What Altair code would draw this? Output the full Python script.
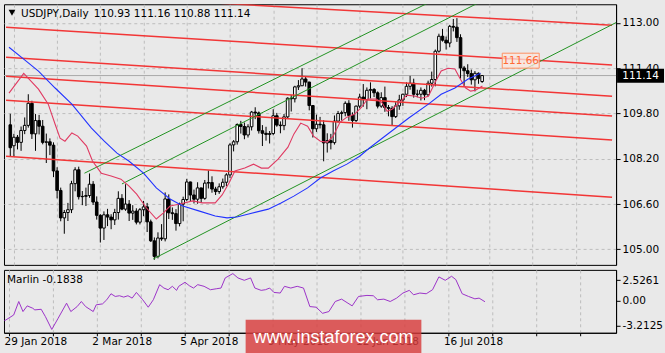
import altair as alt
import pandas as pd

FONT = "DejaVu Sans"
BG = "#e9e9e9"

# ---------------- candles (bar index: 0 = 29 Jan 2018) ----------------
bar_index = list(range(-1, 131))
opens = [109.40, 108.66, 108.96, 108.78, 109.20, 109.38, 110.16, 109.08, 109.55, 109.35,
         108.78, 108.80, 108.68, 107.77, 107.08, 106.11, 106.30, 106.40, 107.32, 107.81,
         106.86, 106.87, 106.90, 107.30, 106.67, 106.20, 105.75, 106.22, 106.14, 106.04,
         106.30, 106.80, 106.42, 106.60, 106.28, 106.35, 105.96, 106.40, 106.50, 105.97,
         105.30, 104.75, 105.40, 105.37, 106.78, 106.29, 106.26, 105.91, 106.60, 106.76,
         107.38, 106.92, 106.77, 107.17, 106.80, 107.34, 107.36, 107.13, 107.04, 107.21,
         107.37, 107.63, 108.69, 108.80, 109.41, 109.34, 109.04, 109.33, 109.85, 109.82,
         109.19, 109.10, 109.06, 109.09, 109.72, 109.39, 109.37, 109.68, 110.34, 110.32,
         110.74, 110.78, 111.02, 110.91, 110.08, 109.26, 109.42, 109.40, 108.76, 108.84,
         108.77, 109.53, 109.80, 109.83, 110.16, 109.73, 109.55, 110.06, 110.38, 110.29,
         110.62, 110.65, 110.53, 110.06, 110.36, 110.01, 109.98, 109.69, 110.07, 110.28,
         110.48, 110.76, 110.87, 110.48, 110.48, 110.62, 110.46, 110.87, 111.00, 112.00,
         112.53, 112.39, 112.29, 112.88, 112.85, 112.48, 111.41, 111.31, 111.21, 110.99,
         111.22, 110.93]
highs = [109.79, 109.08, 109.04, 109.34, 109.66, 110.48, 110.25, 109.78, 109.75, 109.57,
         109.09, 108.92, 108.78, 107.90, 107.18, 106.39, 106.64, 107.42, 107.90, 107.92,
         107.06, 107.18, 107.68, 107.41, 106.87, 106.24, 106.34, 106.43, 106.24, 106.43,
         107.05, 106.95, 107.30, 106.74, 106.56, 106.45, 106.46, 106.71, 106.64, 106.05,
         105.42, 105.60, 105.89, 107.01, 106.94, 106.48, 106.42, 106.65, 106.86, 107.49,
         107.39, 107.11, 107.37, 107.17, 107.45, 107.79, 107.58, 107.21, 107.33, 107.50,
         107.69, 108.75, 108.86, 109.45, 109.54, 109.48, 109.42, 109.89, 110.02, 109.87,
         109.39, 109.33, 109.18, 109.95, 109.82, 109.52, 109.78, 110.37, 110.45, 110.78,
         110.98, 111.40, 111.10, 110.92, 110.10, 109.76, 109.68, 109.56, 109.10, 109.08,
         109.73, 109.89, 109.90, 110.23, 110.27, 109.84, 110.08, 110.50, 110.84, 110.72,
         110.90, 110.70, 110.58, 110.55, 110.75, 110.10, 110.06, 110.20, 110.46, 110.50,
         110.90, 111.13, 111.03, 110.64, 110.72, 110.67, 110.96, 111.28, 112.06, 112.62,
         112.79, 112.52, 112.93, 113.14, 113.17, 112.60, 111.48, 111.54, 111.35, 111.30,
         111.25, 111.16]
lows = [108.28, 108.28, 108.53, 108.48, 109.07, 109.30, 108.90, 108.48, 109.06, 108.71,
        108.05, 108.33, 107.55, 106.80, 105.99, 105.55, 106.00, 106.28, 107.05, 106.76,
        106.56, 106.53, 106.82, 106.57, 106.05, 105.24, 105.33, 105.82, 105.71, 105.86,
        106.05, 106.38, 106.36, 106.00, 106.04, 105.88, 105.88, 106.17, 105.61, 105.26,
        104.63, 104.68, 105.30, 105.28, 106.07, 106.04, 105.66, 105.81, 105.99, 106.70,
        106.68, 106.62, 106.61, 106.64, 106.75, 107.15, 107.00, 106.92, 106.96, 107.14,
        107.23, 107.52, 108.46, 108.70, 109.09, 108.89, 108.95, 109.20, 109.60, 109.09,
        108.65, 108.84, 108.74, 109.03, 109.33, 109.10, 109.21, 109.64, 109.87, 110.19,
        110.63, 110.77, 110.75, 109.91, 108.95, 109.15, 109.27, 108.11, 108.42, 108.53,
        108.70, 109.48, 109.55, 109.70, 109.54, 109.30, 109.50, 109.99, 110.04, 109.95,
        110.33, 110.38, 109.98, 110.00, 109.86, 109.70, 109.37, 109.64, 109.93, 110.07,
        110.38, 110.64, 110.36, 110.37, 110.26, 110.27, 110.41, 110.75, 110.76, 111.95,
        112.34, 112.06, 112.14, 112.70, 112.33, 111.03, 110.75, 111.09, 110.82, 110.58,
        110.85, 110.88]
closes = [108.59, 108.96, 108.78, 109.20, 109.38, 110.16, 109.08, 109.55, 109.35, 108.78,
          108.80, 108.68, 107.77, 107.08, 106.11, 106.30, 106.40, 107.32, 107.81, 106.86,
          106.87, 106.90, 107.30, 106.67, 106.20, 105.75, 106.22, 106.14, 106.04, 106.30,
          106.80, 106.42, 106.60, 106.28, 106.35, 105.96, 106.40, 106.50, 105.97, 105.30,
          104.75, 105.40, 105.37, 106.78, 106.29, 106.26, 105.91, 106.60, 106.76, 107.38,
          106.92, 106.77, 107.17, 106.80, 107.34, 107.36, 107.13, 107.04, 107.21, 107.37,
          107.63, 108.69, 108.80, 109.41, 109.34, 109.04, 109.33, 109.85, 109.82, 109.19,
          109.10, 109.06, 109.09, 109.72, 109.39, 109.37, 109.68, 110.34, 110.32, 110.74,
          110.78, 111.02, 110.91, 110.08, 109.26, 109.42, 109.40, 108.76, 108.84, 108.77,
          109.53, 109.80, 109.83, 110.16, 109.73, 109.55, 110.06, 110.38, 110.29, 110.62,
          110.65, 110.53, 110.06, 110.36, 110.01, 109.98, 109.69, 110.07, 110.28, 110.48,
          110.76, 110.87, 110.48, 110.48, 110.62, 110.46, 110.87, 111.00, 112.00, 112.53,
          112.39, 112.29, 112.88, 112.85, 112.48, 111.41, 111.31, 111.21, 110.99, 111.22,
          111.04, 111.14]

# ---------------- axes ----------------
date_tick_bars = [0, 24, 48, 72, 96, 120]
date_tick_labels = ["29 Jan 2018", "2 Mar 2018", "5 Apr 2018", "9 May 2018", "12 Jun 2018", "16 Jul 2018"]
grid_bars = [0, 12, 24, 36, 48, 60, 72, 84, 96, 108, 120, 132, 144, 156]
price_ticks = [105.0, 106.6, 108.2, 109.8, 111.4, 113.0]
marlin_ticks = [2.5261, 0.0, -3.2125]
marlin_tick_labels = ["2.5261", "0.00", "-3.2125"]

# ---------------- indicators ----------------
red_ma_bars = [-1.36, 2.73, 6.82, 9.54, 11.45, 12.82, 14.18, 16.09, 17.73, 20.18, 21.82, 24.27,
               27.0, 29.72, 31.9, 34.09, 36.82, 39.54, 41.45, 43.36, 46.09, 49.63, 52.36, 55.9,
               57.81, 59.72, 61.36, 64.09, 66.54, 68.72, 70.63, 73.36, 76.09, 77.72, 79.63, 81.54,
               83.18, 85.09, 87.0, 88.63, 90.54, 92.45, 94.63, 96.54, 98.17, 100.63, 102.27, 103.63,
               104.99, 106.9, 109.08, 111.54, 113.17, 115.08, 117.0, 118.63, 120.54, 122.45, 124.09,
               125.45, 126.81, 128.17, 130.08]
red_ma_vals = [110.52, 111.22, 110.66, 110.13, 109.42, 108.93, 108.82, 109.11, 109.0, 108.65, 108.12,
               107.69, 107.59, 107.48, 107.24, 106.95, 106.46, 106.07, 106.28, 106.53, 106.6, 106.71,
               106.64, 106.64, 106.92, 107.34, 107.77, 107.87, 108.01, 107.87, 107.87, 108.19, 108.61,
               109.07, 109.46, 109.35, 109.0, 108.82, 108.79, 109.0, 109.49, 109.67, 109.78, 110.02,
               110.31, 110.31, 110.17, 109.88, 109.95, 110.17, 110.45, 110.41, 110.34, 110.41, 110.91,
               111.3, 111.4, 111.37, 110.98, 110.7, 110.59, 110.62, 110.77]
blue_ma_bars = [-1.36, 2.73, 6.82, 11.45, 16.09, 21.54, 25.09, 28.63, 31.9, 36.0, 39.54, 43.36,
                46.9, 51.54, 55.9, 59.18, 61.9, 65.18, 70.63, 74.18, 77.72, 81.54, 85.09, 88.63,
                92.45, 96.0, 98.72, 104.17, 109.63, 115.08, 118.63, 122.45, 126.0, 129.54]
blue_ma_vals = [112.14, 111.72, 111.3, 110.7, 110.13, 109.28, 108.82, 108.4, 108.12, 107.69, 107.17,
                106.78, 106.53, 106.35, 106.18, 106.11, 106.14, 106.25, 106.42, 106.64, 106.88, 107.17,
                107.52, 107.77, 108.01, 108.29, 108.58, 109.11, 109.64, 110.13, 110.48, 110.7, 111.01,
                111.22]
marlin_bars = [-1.26, -0.87, 1.29, 2.67, 3.83, 4.98, 6.49, 7.06, 8.8, 9.95, 11.69, 13.42, 15.73,
               16.89, 18.62, 19.77, 20.93, 23.01, 23.82, 25.55, 26.71, 27.86, 29.02, 30.17, 31.33,
               32.49, 33.64, 34.8, 36.53, 38.03, 39.42, 41.15, 42.31, 43.46, 44.62, 45.77, 46.35,
               48.08, 49.24, 50.4, 51.55, 53.28, 55.02, 56.75, 57.91, 59.06, 61.14, 62.53, 64.26,
               65.99, 67.15, 68.88, 70.04, 71.19, 72.35, 74.08, 75.24, 76.97, 78.71, 80.44, 82.17,
               83.9, 85.64, 87.37, 89.1, 90.84, 92.57, 93.73, 95.46, 97.77, 99.5, 100.66, 102.39,
               104.12, 105.86, 107.59, 109.33, 110.48, 112.21, 113.95, 115.68, 117.41, 119.15,
               120.88, 122.04, 123.77, 125.5, 127.24, 128.39, 130.0]
marlin_vals = [-2.57, -2.49, -1.85, -0.15, -1.42, -0.70, -1.0, -1.21, -1.13, -2.06, -3.68, -2.27,
               -0.36, -1.42, -0.79, -0.15, -0.79, -1.42, -0.57, -0.45, 0.07, 0.83, 0.49, 0.58, 0.41,
               0.58, 0.28, 1.0, 0.07, -0.87, 0.07, 1.98, 1.55, 1.34, 1.77, 1.26, 1.77, 2.28, 1.85,
               1.55, 1.98, 1.77, 1.34, 1.47, 1.55, 2.83, 3.38, 2.83, 2.53, 2.83, 1.55, 1.26, 1.34,
               1.55, 1.0, 0.92, 1.77, 1.55, 1.77, 1.55, -0.79, -0.87, -1.64, -1.42, -0.15, 0.15,
               -0.36, -0.70, 0.49, 0.62, 0.58, 0.07, 0.15, -0.15, 0.28, 0.92, 1.26, 0.70, 0.92,
               0.83, 1.34, 2.96, 2.53, 3.04, 2.62, 0.83, 0.49, 0.19, 0.28, -0.18]

# ---------------- drawn lines (bar, price at both ends) ----------------
red_line_names = ["R0", "R1", "R2", "R3", "R4", "R5"]
red_line_bar0 = [-2.18, -2.18, -2.18, -2.18, -2.18, -2.18]
red_line_p0 = [114.12, 112.85, 111.79, 111.12, 110.27, 108.29]
red_line_bar1 = [166.07, 166.07, 166.07, 166.07, 166.07, 166.07]
red_line_p1 = [112.92, 111.51, 110.41, 109.71, 108.86, 106.84]

green_line_names = ["G1", "G2", "G3"]
green_line_bar0 = [19.6, 30.0, 38.7]
green_line_p0 = [107.69, 107.31, 104.66]
green_line_bar1 = [123.3, 134.2, 169.6]
green_line_p1 = [114.23, 114.05, 113.17]

# ---------------- texts ----------------
symbol = "USDJPY,Daily"
last_ohlc = [110.93, 111.16, 110.88, 111.14]
bid_price = 111.14
level_label = 111.66
marlin_name = "Marlin"
marlin_last = -0.1838
watermark = "www.instaforex.com"

# ---------------- frames ----------------
candles = pd.DataFrame({"bar": bar_index, "open": opens, "high": highs, "low": lows, "close": closes})


def seg_frame(names, b0, p0, b1, p1):
    rows = []
    for n, a, b, c, d in zip(names, b0, p0, b1, p1):
        rows.append({"name": n, "bar": a, "price": b, "ord": 0})
        rows.append({"name": n, "bar": c, "price": d, "ord": 1})
    return pd.DataFrame(rows)


red_lines = seg_frame(red_line_names, red_line_bar0, red_line_p0, red_line_bar1, red_line_p1)
green_lines = seg_frame(green_line_names, green_line_bar0, green_line_p0, green_line_bar1, green_line_p1)
red_ma = pd.DataFrame({"bar": red_ma_bars, "price": red_ma_vals})
blue_ma = pd.DataFrame({"bar": blue_ma_bars, "price": blue_ma_vals})
marlin = pd.DataFrame({"bar": marlin_bars, "val": marlin_vals})
info = pd.DataFrame({
    "sym": [symbol],
    "ohlc": [" ".join(f"{v:.2f}" for v in last_ohlc)],
    "bid": [bid_price],
    "bidtxt": [f"{bid_price:.2f}"],
    "lvl": [level_label],
    "lvltxt": [f"{level_label:.2f}"],
    "mtxt": [f"{marlin_name} {marlin_last:.4f}"],
    "wm": [watermark],
})

# ---------------- scales & axes ----------------
xs = alt.Scale(domain=[-1.36, 165.8], nice=False, zero=False)
ys = alt.Scale(domain=[104.45, 113.66], nice=False, zero=False)
ms = alt.Scale(domain=[-4.1, 3.85], nice=False, zero=False)

ax_main_x = alt.Axis(values=grid_bars, grid=True, labels=False, ticks=False, domain=False, title=None)
ax_main_y = alt.Axis(orient="right", values=price_ticks, format=".2f", grid=True, title=None)

x_expr = "''"
for b, l in reversed(list(zip(date_tick_bars, date_tick_labels))):
    x_expr = f"datum.value == {b} ? '{l}' : {x_expr}"
m_expr = "''"
for b, l in reversed(list(zip(marlin_ticks, marlin_tick_labels))):
    m_expr = f"datum.value == {b} ? '{l}' : {m_expr}"

ax_m_x = alt.Axis(values=grid_bars, grid=True, labelExpr=x_expr, labelAlign="left", labelOffset=-5,
                  tickSize=3, labelPadding=1, title=None, labelOverlap=False, labelFlush=False,
                  labelBound=False)
ax_m_y = alt.Axis(orient="right", values=marlin_ticks, labelExpr=m_expr, grid=False, title=None)


def MX(f):
    return alt.X(f, type="quantitative", scale=xs, axis=ax_main_x)


def MY(f):
    return alt.Y(f, type="quantitative", scale=ys, axis=ax_main_y)


# ---------------- main panel ----------------
bid_line = alt.Chart(info).mark_rule(color="#a9a9a9", strokeWidth=1).encode(y=MY("bid"))
wicks = alt.Chart(candles).mark_rule(color="black", strokeWidth=1).encode(
    x=MX("bar"), y=MY("low"), y2="high")
bodies = alt.Chart(candles).mark_bar(size=2.6, stroke="black", strokeWidth=1, orient="vertical").encode(
    x=MX("bar"), y=MY("open"), y2="close",
    fill=alt.condition("datum.close >= datum.open", alt.value("white"), alt.value("black")))
red_ch = alt.Chart(red_lines).mark_line(color="#f23636", strokeWidth=1.5, clip=True).encode(
    x=MX("bar"), y=MY("price"), detail="name:N", order="ord:Q")
green_ch = alt.Chart(green_lines).mark_line(color="#229322", strokeWidth=1, clip=True).encode(
    x=MX("bar"), y=MY("price"), detail="name:N", order="ord:Q")
red_line = alt.Chart(red_ma).mark_line(color="#e03a62", strokeWidth=1.1, clip=True).encode(
    x=MX("bar"), y=MY("price"))
blue_line = alt.Chart(blue_ma).mark_line(color="#2233ff", strokeWidth=1.1, clip=True).encode(
    x=MX("bar"), y=MY("price"))

tri = alt.Chart(info).mark_point(shape="triangle-down", filled=True, size=45, color="black", opacity=1).encode(
    x=alt.value(8), y=alt.value(8.5))
sym_txt = alt.Chart(info).mark_text(align="left", baseline="middle", font=FONT, fontSize=10.5,
                                    color="black").encode(x=alt.value(17), y=alt.value(9.5), text="sym:N")
ohlc_txt = alt.Chart(info).mark_text(align="left", baseline="middle", font=FONT, fontSize=10.5,
                                     color="black").encode(x=alt.value(90), y=alt.value(9.5), text="ohlc:N")

lvl_box = alt.Chart(info).mark_rect(fill="#fbe6dc", fillOpacity=0.75, stroke="#ff9060", strokeWidth=1).encode(
    x=alt.value(499), x2=alt.value(536), y=alt.value(49), y2=alt.value(64))
lvl_txt = alt.Chart(info).mark_text(align="center", baseline="middle", font=FONT, fontSize=10.5,
                                    color="#ff6a35").encode(x=alt.value(517.5), y=alt.value(57), text="lvltxt:N")

bid_box = alt.Chart(info).mark_rect(fill="black").encode(
    x=alt.value(614), x2=alt.value(661), y=alt.value(64.5), y2=alt.value(78.5))
bid_txt = alt.Chart(info).mark_text(align="center", baseline="middle", font=FONT, fontSize=10.5,
                                    color="white").encode(x=alt.value(637.5), y=MY("bid"), text="bidtxt:N")

main = alt.layer(bid_line, wicks, bodies, red_ch, green_ch, red_line, blue_line,
                 tri, sym_txt, ohlc_txt, lvl_box, lvl_txt, bid_box, bid_txt).properties(width=613, height=261)

# ---------------- Marlin panel ----------------
m_line = alt.Chart(marlin).mark_line(color="#9c33c8", strokeWidth=1, clip=True).encode(
    x=alt.X("bar:Q", scale=xs, axis=ax_m_x), y=alt.Y("val:Q", scale=ms, axis=ax_m_y))
m_txt = alt.Chart(info).mark_text(align="left", baseline="middle", font=FONT, fontSize=10.5,
                                  color="black").encode(x=alt.value(3), y=alt.value(10.5), text="mtxt:N")
wm_box = alt.Chart(info).mark_rect(fill="#d83c3c", opacity=0.82).encode(
    x=alt.value(242), x2=alt.value(418), y=alt.value(50), y2=alt.value(86))
wm_txt = alt.Chart(info).mark_text(align="center", baseline="middle", font="Liberation Sans", fontSize=18,
                                   color="white").encode(x=alt.value(330), y=alt.value(68), text="wm:N")

lower = alt.layer(m_line, m_txt, wm_box, wm_txt).properties(width=613, height=63)

chart = alt.vconcat(main, lower, spacing=3).properties(
    background=BG, padding={"left": 3, "top": 3, "right": 0, "bottom": 0}
).configure_view(stroke="black", strokeWidth=1).configure_axis(
    labelFont=FONT, labelFontSize=10.5, labelColor="black", domainColor="black", tickColor="black",
    tickSize=4, labelPadding=2, gridColor="#bdbdbd", gridDash=[3, 3], gridWidth=1
)

chart.save("out.html", embed_options={"renderer": "svg", "actions": False})
